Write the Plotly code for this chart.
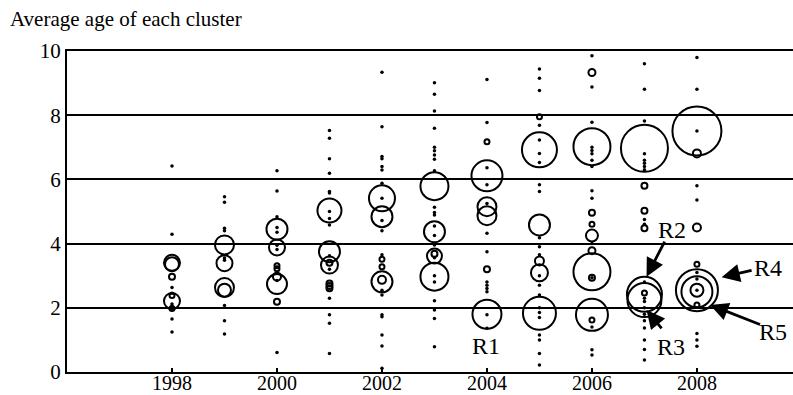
import plotly.graph_objects as go

# ---- data ----
year_ticks = [1998, 2000, 2002, 2004, 2006, 2008]
age_ticks = [0, 2, 4, 6, 8, 10]

# open circles: one entry per cluster (year, average age, drawn diameter)
circle_year = (
    [1998] * 6 + [1999] * 4 + [2000] * 7 + [2001] * 7 + [2002] * 6 + [2003] * 5
    + [2004] * 6 + [2005] * 6 + [2006] * 10 + [2007] * 7 + [2008] * 8
)
circle_age = [
    3.40, 3.36, 2.97, 2.21, 2.38, 1.98,
    3.96, 3.39, 2.63, 2.55,
    4.45, 3.88, 3.31, 3.22, 2.97, 2.74, 2.19,
    5.03, 3.75, 3.33, 3.40, 2.76, 2.68, 2.61,
    5.41, 4.84, 3.51, 3.28, 2.81, 2.87,
    5.79, 4.37, 3.61, 3.68, 2.97,
    7.17, 6.11, 5.15, 4.87, 3.20, 1.80,
    7.95, 6.92, 4.58, 3.46, 3.09, 1.83,
    9.33, 7.02, 4.96, 4.60, 4.25, 3.78, 3.12, 2.94, 1.78, 1.62,
    6.97, 5.80, 5.02, 4.48, 2.42, 2.24, 2.46,
    7.51, 6.81, 4.50, 3.36, 2.55, 2.50, 2.55, 2.09,
]
circle_size = [
    16, 14, 6, 16, 5, 5,
    19, 16, 19, 13,
    21, 16, 5, 5, 8, 20, 6,
    24, 21, 17, 6, 6, 6, 6,
    26, 21, 5, 5, 21, 8,
    28, 21, 15, 6, 28,
    5, 31, 19, 19, 6, 29,
    5, 35, 21, 9, 17, 33,
    7, 37, 6, 5, 12, 7, 37, 6, 32, 5,
    47, 6, 6, 6, 35, 34, 5,
    49, 8, 8, 5, 42, 31, 13, 5,
]

# single-member clusters drawn as dots
dots_1998 = [6.42, 4.29, 2.63, 2.45, 2.12, 2.05, 1.65, 1.25]
dots_1999 = [5.46, 5.29, 4.48, 4.40, 3.55, 3.48, 2.07, 1.60, 1.18]
dots_2000 = [6.27, 5.64, 4.84, 4.50, 4.35, 3.95, 3.82, 2.85, 0.61]
dots_2001 = [7.52, 7.28, 6.64, 6.19, 5.62, 5.58, 5.00, 4.78, 4.58, 3.62, 3.20,
             2.30, 1.78, 1.52, 0.58]
dots_2002 = [9.34, 7.64, 6.71, 6.64, 6.40, 6.29, 5.88, 5.41, 4.72, 4.40, 3.65,
             2.55, 2.40, 1.78, 1.72, 1.15, 0.81, 0.12]
dots_2003 = [9.01, 8.65, 8.13, 7.59, 7.00, 6.89, 6.76, 6.63, 6.27, 5.13, 4.97,
             4.89, 4.55, 4.25, 3.96, 3.56, 3.00, 2.80, 2.22, 1.93, 1.67, 0.79]
dots_2004 = [9.11, 7.77, 6.36, 5.83, 5.25, 4.32, 3.75, 2.80, 2.70, 2.60, 2.50,
             1.78, 1.36]
dots_2005 = [9.44, 9.15, 8.77, 7.69, 7.23, 6.81, 6.53, 5.83, 5.62, 4.18, 3.90,
             3.65, 3.00, 2.70, 2.40, 2.00, 1.85, 1.70, 1.15, 1.00, 0.58, 0.22]
dots_2006 = [9.85, 8.88, 7.78, 7.00, 6.90, 6.80, 6.60, 6.40, 5.65, 5.41, 4.00,
             2.94, 1.40, 0.69, 0.53]
dots_2007 = [9.60, 8.81, 7.82, 6.80, 6.60, 6.50, 6.40, 6.30, 4.75, 4.60, 2.80,
             2.30, 2.20, 2.00, 1.80, 1.60, 1.37, 1.00, 0.70, 0.37]
dots_2008 = [9.80, 8.81, 7.51, 5.80, 5.36, 3.10, 2.90, 2.55, 1.20, 1.00, 0.80]

dot_columns = {
    1998: dots_1998, 1999: dots_1999, 2000: dots_2000, 2001: dots_2001,
    2002: dots_2002, 2003: dots_2003, 2004: dots_2004, 2005: dots_2005,
    2006: dots_2006, 2007: dots_2007, 2008: dots_2008,
}

# labelled regions: text position, arrow tip and arrow tail (data units)
label_names = ["R1", "R2", "R3", "R4", "R5"]
label_x = [2003.99, 2007.52, 2007.50, 2009.36, 2009.44]
label_y = [0.82, 4.42, 0.79, 3.24, 1.26]
arrow_tip_x = [None, 2007.04, 2007.04, 2008.47, 2008.25]
arrow_tip_y = [None, 2.97, 1.93, 2.95, 2.09]
arrow_tail_x = [None, 2007.40, 2007.35, 2009.07, 2009.23]
arrow_tail_y = [None, 4.11, 1.31, 3.18, 1.46]

# ---- figure ----
FONT = "Liberation Serif, Times New Roman, serif"
dot_x, dot_y = [], []
for yr, vals in dot_columns.items():
    dot_x += [yr] * len(vals)
    dot_y += vals

fig = go.Figure()
fig.add_trace(go.Scatter(
    x=dot_x, y=dot_y, mode="markers",
    marker=dict(size=3.5, color="black", opacity=1, line=dict(width=0)),
    hoverinfo="x+y", showlegend=False,
))
fig.add_trace(go.Scatter(
    x=circle_year, y=circle_age, mode="markers",
    marker=dict(size=circle_size, color="rgba(0,0,0,0)", opacity=1,
                line=dict(color="black", width=2)),
    hoverinfo="x+y", showlegend=False,
))

annotations = []
for i, name in enumerate(label_names):
    annotations.append(dict(
        x=label_x[i], y=label_y[i], xref="x", yref="y", text=name,
        showarrow=False, font=dict(family=FONT, size=24, color="black"),
        xanchor="center", yanchor="middle",
    ))
    if arrow_tip_x[i] is not None:
        annotations.append(dict(
            x=arrow_tip_x[i], y=arrow_tip_y[i], xref="x", yref="y",
            ax=arrow_tail_x[i], ay=arrow_tail_y[i], axref="x", ayref="y",
            text="", showarrow=True, arrowhead=2, arrowsize=1.3,
            arrowwidth=2.8, arrowcolor="black",
        ))

fig.update_layout(
    width=793, height=395,
    margin=dict(l=67, r=0, t=51, b=23, autoexpand=False),
    paper_bgcolor="white", plot_bgcolor="white",
    font=dict(family=FONT, size=21, color="black"),
    title=dict(text="Average age of each cluster", x=10 / 793, xanchor="left",
               xref="container", yref="container", y=1 - 19 / 395,
               yanchor="middle", font=dict(family=FONT, size=21, color="black")),
    annotations=annotations,
)
fig.update_xaxes(
    range=[1996, 2009.83], tickvals=year_ticks, showgrid=False, zeroline=False,
    showline=True, linecolor="black", linewidth=2, mirror=True,
    ticks="inside", ticklen=4, tickwidth=1.5, tickcolor="black",
    ticklabelstandoff=-8,
    tickfont=dict(family=FONT, size=20, color="black"),
)
fig.update_yaxes(
    range=[0, 10], tickvals=age_ticks, showgrid=True, gridcolor="black",
    gridwidth=1.6, zeroline=False, showline=True, linecolor="black",
    linewidth=2, ticks="", tickfont=dict(family=FONT, size=21, color="black"),
)

fig.write_html("out.html")
